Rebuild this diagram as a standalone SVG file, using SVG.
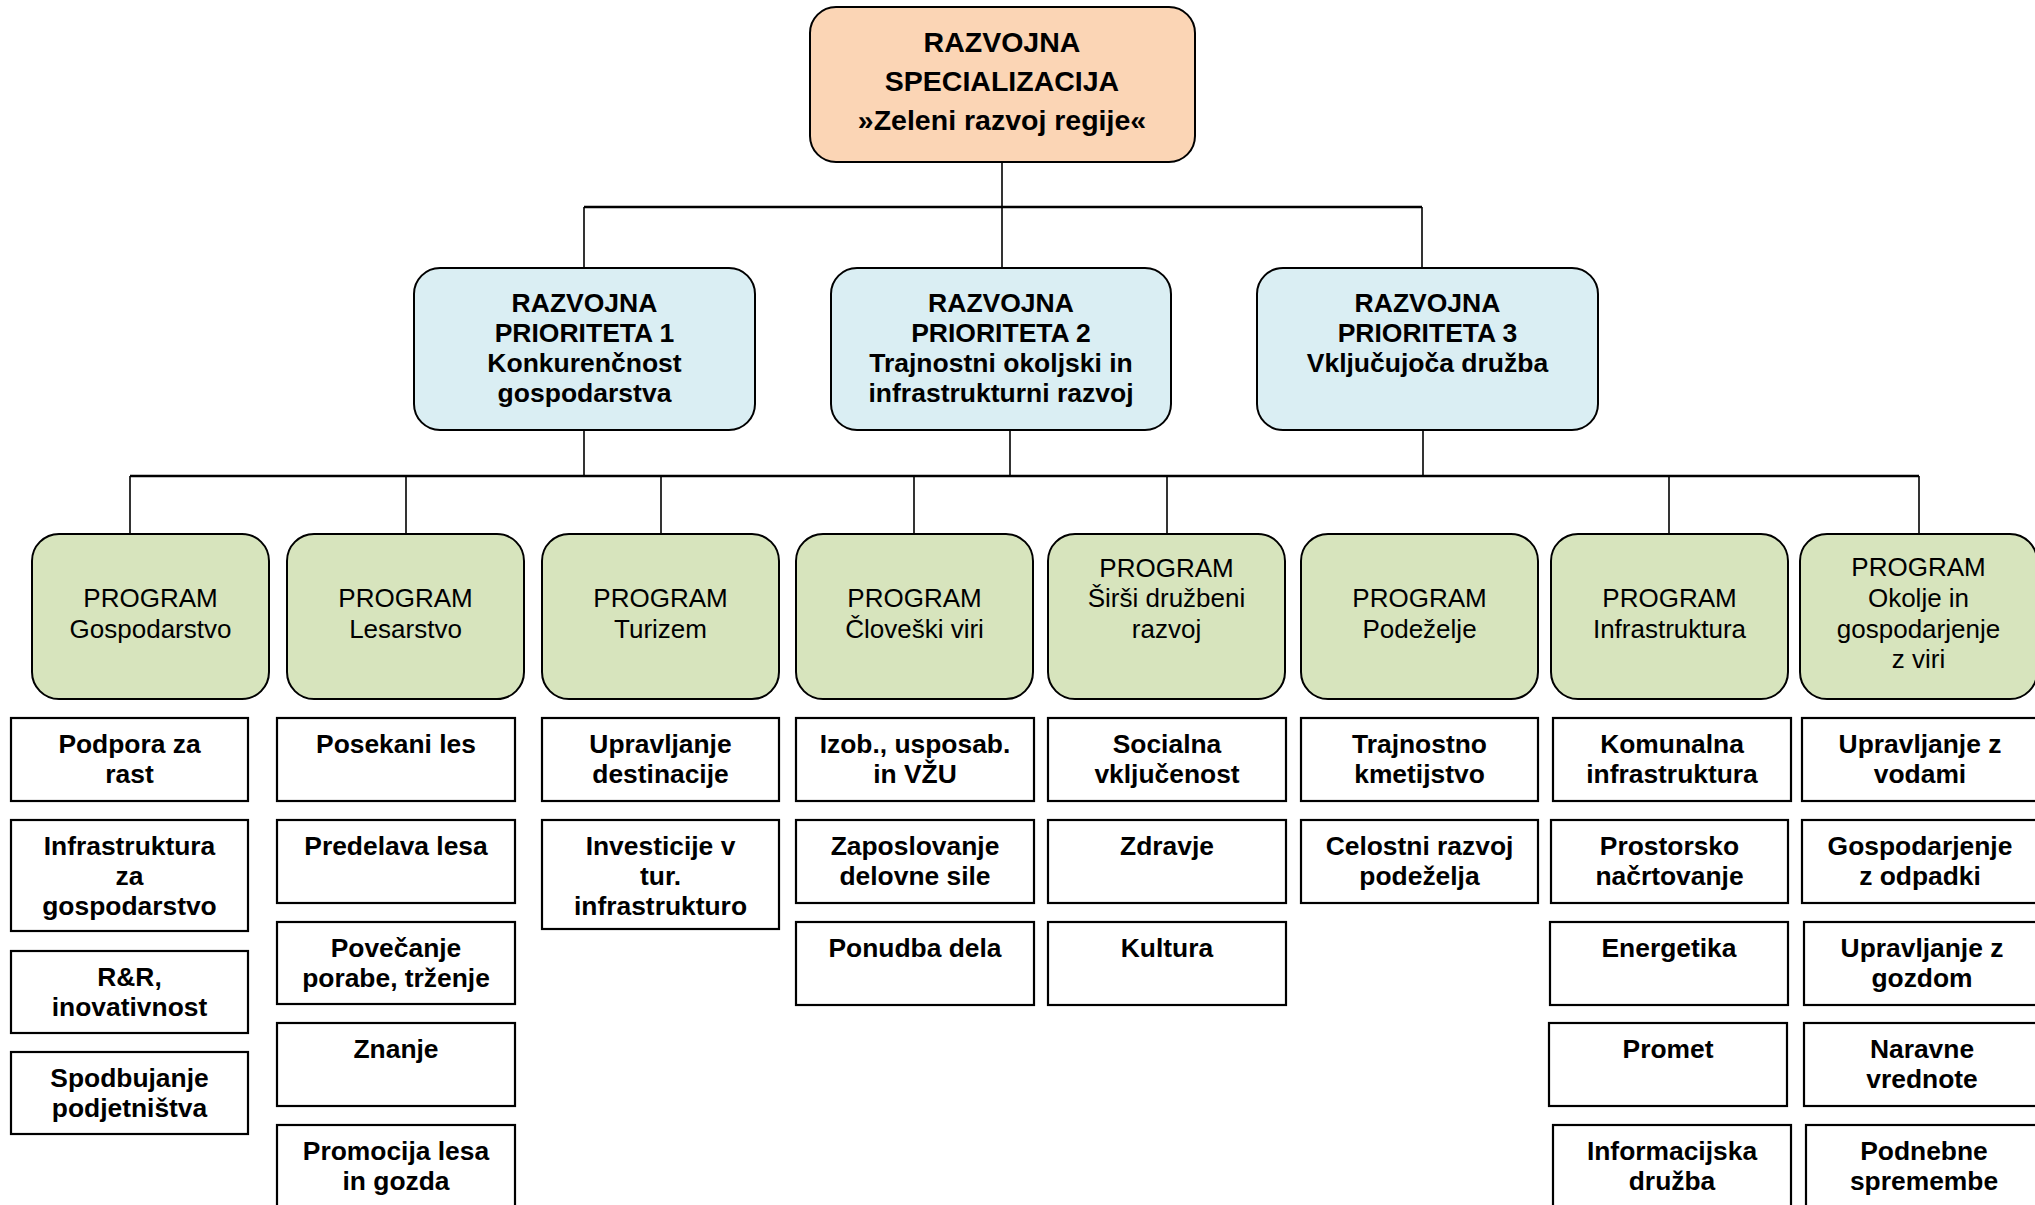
<svg xmlns="http://www.w3.org/2000/svg" width="2035" height="1205" viewBox="0 0 2035 1205">
<style>
text{font-family:"Liberation Sans",Arial,sans-serif;fill:#000;text-anchor:middle}
.root{fill:#FBD5B5;stroke:#000;stroke-width:2}
.prio{fill:#DAEEF3;stroke:#000;stroke-width:2}
.prog{fill:#D7E4BD;stroke:#000;stroke-width:2}
.leaf{fill:#fff;stroke:#000;stroke-width:2.2}
.tr{font-size:28.5px;font-weight:bold}
.tp{font-size:26.5px;font-weight:bold}
.tg{font-size:26px}
.tl{font-size:26.4px;font-weight:bold}
.c{stroke:#000;fill:none}
.h{stroke-width:2.4}
.v{stroke-width:1.6}
</style>
<rect width="2035" height="1205" fill="#fff"/>
<g id="connectors">
<line class="c v" x1="1002" y1="162" x2="1002" y2="207"/>
<line class="c h" x1="584" y1="207" x2="1422" y2="207"/>
<line class="c v" x1="584" y1="207" x2="584" y2="268"/>
<line class="c v" x1="1002" y1="207" x2="1002" y2="268"/>
<line class="c v" x1="1422" y1="207" x2="1422" y2="268"/>
<line class="c v" x1="584" y1="430" x2="584" y2="476"/>
<line class="c v" x1="1010" y1="430" x2="1010" y2="476"/>
<line class="c v" x1="1423" y1="430" x2="1423" y2="476"/>
<line class="c h" x1="130" y1="476" x2="1919" y2="476"/>
<line class="c v" x1="130" y1="476" x2="130" y2="534"/>
<line class="c v" x1="406" y1="476" x2="406" y2="534"/>
<line class="c v" x1="661" y1="476" x2="661" y2="534"/>
<line class="c v" x1="914" y1="476" x2="914" y2="534"/>
<line class="c v" x1="1167" y1="476" x2="1167" y2="534"/>
<line class="c v" x1="1669" y1="476" x2="1669" y2="534"/>
<line class="c v" x1="1919" y1="476" x2="1919" y2="534"/>
</g>
<g id="root">
<rect class="root" x="810" y="7" width="385" height="155" rx="26"/>
<text class="tr" x="1002" y="52">RAZVOJNA</text>
<text class="tr" x="1002" y="91">SPECIALIZACIJA</text>
<text class="tr" x="1002" y="130">»Zeleni razvoj regije«</text>
</g>
<g id="prio1">
<rect class="prio" x="414" y="268" width="341" height="162" rx="26"/>
<text class="tp" x="584.5" y="312">RAZVOJNA</text>
<text class="tp" x="584.5" y="342">PRIORITETA 1</text>
<text class="tp" x="584.5" y="372">Konkurenčnost</text>
<text class="tp" x="584.5" y="402">gospodarstva</text>
</g>
<g id="prio2">
<rect class="prio" x="831" y="268" width="340" height="162" rx="26"/>
<text class="tp" x="1001" y="312">RAZVOJNA</text>
<text class="tp" x="1001" y="342">PRIORITETA 2</text>
<text class="tp" x="1001" y="372">Trajnostni okoljski in</text>
<text class="tp" x="1001" y="402">infrastrukturni razvoj</text>
</g>
<g id="prio3">
<rect class="prio" x="1257" y="268" width="341" height="162" rx="26"/>
<text class="tp" x="1427.5" y="312">RAZVOJNA</text>
<text class="tp" x="1427.5" y="342">PRIORITETA 3</text>
<text class="tp" x="1427.5" y="372">Vključujoča družba</text>
</g>
<g id="prog1">
<rect class="prog" x="32" y="534" width="237" height="165" rx="27"/>
<text class="tg" x="150.5" y="607">PROGRAM</text>
<text class="tg" x="150.5" y="638">Gospodarstvo</text>
</g>
<g id="prog2">
<rect class="prog" x="287" y="534" width="237" height="165" rx="27"/>
<text class="tg" x="405.5" y="607">PROGRAM</text>
<text class="tg" x="405.5" y="638">Lesarstvo</text>
</g>
<g id="prog3">
<rect class="prog" x="542" y="534" width="237" height="165" rx="27"/>
<text class="tg" x="660.5" y="607">PROGRAM</text>
<text class="tg" x="660.5" y="638">Turizem</text>
</g>
<g id="prog4">
<rect class="prog" x="796" y="534" width="237" height="165" rx="27"/>
<text class="tg" x="914.5" y="607">PROGRAM</text>
<text class="tg" x="914.5" y="638">Človeški viri</text>
</g>
<g id="prog5">
<rect class="prog" x="1048" y="534" width="237" height="165" rx="27"/>
<text class="tg" x="1166.5" y="577">PROGRAM</text>
<text class="tg" x="1166.5" y="607">Širši družbeni</text>
<text class="tg" x="1166.5" y="638">razvoj</text>
</g>
<g id="prog6">
<rect class="prog" x="1301" y="534" width="237" height="165" rx="27"/>
<text class="tg" x="1419.5" y="607">PROGRAM</text>
<text class="tg" x="1419.5" y="638">Podeželje</text>
</g>
<g id="prog7">
<rect class="prog" x="1551" y="534" width="237" height="165" rx="27"/>
<text class="tg" x="1669.5" y="607">PROGRAM</text>
<text class="tg" x="1669.5" y="638">Infrastruktura</text>
</g>
<g id="prog8">
<rect class="prog" x="1800" y="534" width="237" height="165" rx="27"/>
<text class="tg" x="1918.5" y="576">PROGRAM</text>
<text class="tg" x="1918.5" y="607">Okolje in</text>
<text class="tg" x="1918.5" y="638">gospodarjenje</text>
<text class="tg" x="1918.5" y="668">z viri</text>
</g>
<!-- column 1 -->
<g id="l1a"><rect class="leaf" x="11" y="718" width="237" height="83"/><text class="tl" x="129.5" y="753">Podpora za</text><text class="tl" x="129.5" y="783">rast</text></g>
<g id="l1b"><rect class="leaf" x="11" y="820" width="237" height="111"/><text class="tl" x="129.5" y="855">Infrastruktura</text><text class="tl" x="129.5" y="885">za</text><text class="tl" x="129.5" y="915">gospodarstvo</text></g>
<g id="l1c"><rect class="leaf" x="11" y="951" width="237" height="82"/><text class="tl" x="129.5" y="986">R&amp;R,</text><text class="tl" x="129.5" y="1016">inovativnost</text></g>
<g id="l1d"><rect class="leaf" x="11" y="1052" width="237" height="82"/><text class="tl" x="129.5" y="1087">Spodbujanje</text><text class="tl" x="129.5" y="1117">podjetništva</text></g>
<!-- column 2 -->
<g id="l2a"><rect class="leaf" x="277" y="718" width="238" height="83"/><text class="tl" x="396" y="753">Posekani les</text></g>
<g id="l2b"><rect class="leaf" x="277" y="820" width="238" height="83"/><text class="tl" x="396" y="855">Predelava lesa</text></g>
<g id="l2c"><rect class="leaf" x="277" y="922" width="238" height="82"/><text class="tl" x="396" y="957">Povečanje</text><text class="tl" x="396" y="987">porabe, trženje</text></g>
<g id="l2d"><rect class="leaf" x="277" y="1023" width="238" height="83"/><text class="tl" x="396" y="1058">Znanje</text></g>
<g id="l2e"><rect class="leaf" x="277" y="1125" width="238" height="84"/><text class="tl" x="396" y="1160">Promocija lesa</text><text class="tl" x="396" y="1190">in gozda</text></g>
<!-- column 3 -->
<g id="l3a"><rect class="leaf" x="542" y="718" width="237" height="83"/><text class="tl" x="660.5" y="753">Upravljanje</text><text class="tl" x="660.5" y="783">destinacije</text></g>
<g id="l3b"><rect class="leaf" x="542" y="820" width="237" height="109"/><text class="tl" x="660.5" y="855">Investicije v</text><text class="tl" x="660.5" y="885">tur.</text><text class="tl" x="660.5" y="915">infrastrukturo</text></g>
<!-- column 4 -->
<g id="l4a"><rect class="leaf" x="796" y="718" width="238" height="83"/><text class="tl" x="915" y="753">Izob., usposab.</text><text class="tl" x="915" y="783">in VŽU</text></g>
<g id="l4b"><rect class="leaf" x="796" y="820" width="238" height="83"/><text class="tl" x="915" y="855">Zaposlovanje</text><text class="tl" x="915" y="885">delovne sile</text></g>
<g id="l4c"><rect class="leaf" x="796" y="922" width="238" height="83"/><text class="tl" x="915" y="957">Ponudba dela</text></g>
<!-- column 5 -->
<g id="l5a"><rect class="leaf" x="1048" y="718" width="238" height="83"/><text class="tl" x="1167" y="753">Socialna</text><text class="tl" x="1167" y="783">vključenost</text></g>
<g id="l5b"><rect class="leaf" x="1048" y="820" width="238" height="83"/><text class="tl" x="1167" y="855">Zdravje</text></g>
<g id="l5c"><rect class="leaf" x="1048" y="922" width="238" height="83"/><text class="tl" x="1167" y="957">Kultura</text></g>
<!-- column 6 -->
<g id="l6a"><rect class="leaf" x="1301" y="718" width="237" height="83"/><text class="tl" x="1419.5" y="753">Trajnostno</text><text class="tl" x="1419.5" y="783">kmetijstvo</text></g>
<g id="l6b"><rect class="leaf" x="1301" y="820" width="237" height="83"/><text class="tl" x="1419.5" y="855">Celostni razvoj</text><text class="tl" x="1419.5" y="885">podeželja</text></g>
<!-- column 7 -->
<g id="l7a"><rect class="leaf" x="1553" y="718" width="238" height="83"/><text class="tl" x="1672" y="753">Komunalna</text><text class="tl" x="1672" y="783">infrastruktura</text></g>
<g id="l7b"><rect class="leaf" x="1551" y="820" width="237" height="83"/><text class="tl" x="1669.5" y="855">Prostorsko</text><text class="tl" x="1669.5" y="885">načrtovanje</text></g>
<g id="l7c"><rect class="leaf" x="1550" y="922" width="238" height="83"/><text class="tl" x="1669" y="957">Energetika</text></g>
<g id="l7d"><rect class="leaf" x="1549" y="1023" width="238" height="83"/><text class="tl" x="1668" y="1058">Promet</text></g>
<g id="l7e"><rect class="leaf" x="1553" y="1125" width="238" height="84"/><text class="tl" x="1672" y="1160">Informacijska</text><text class="tl" x="1672" y="1190">družba</text></g>
<!-- column 8 -->
<g id="l8a"><rect class="leaf" x="1802" y="718" width="238" height="83"/><text class="tl" x="1920" y="753">Upravljanje z</text><text class="tl" x="1920" y="783">vodami</text></g>
<g id="l8b"><rect class="leaf" x="1802" y="820" width="238" height="83"/><text class="tl" x="1920" y="855">Gospodarjenje</text><text class="tl" x="1920" y="885">z odpadki</text></g>
<g id="l8c"><rect class="leaf" x="1804" y="922" width="238" height="83"/><text class="tl" x="1922" y="957">Upravljanje z</text><text class="tl" x="1922" y="987">gozdom</text></g>
<g id="l8d"><rect class="leaf" x="1804" y="1023" width="238" height="83"/><text class="tl" x="1922" y="1058">Naravne</text><text class="tl" x="1922" y="1088">vrednote</text></g>
<g id="l8e"><rect class="leaf" x="1806" y="1125" width="238" height="84"/><text class="tl" x="1924" y="1160">Podnebne</text><text class="tl" x="1924" y="1190">spremembe</text></g>
</svg>
